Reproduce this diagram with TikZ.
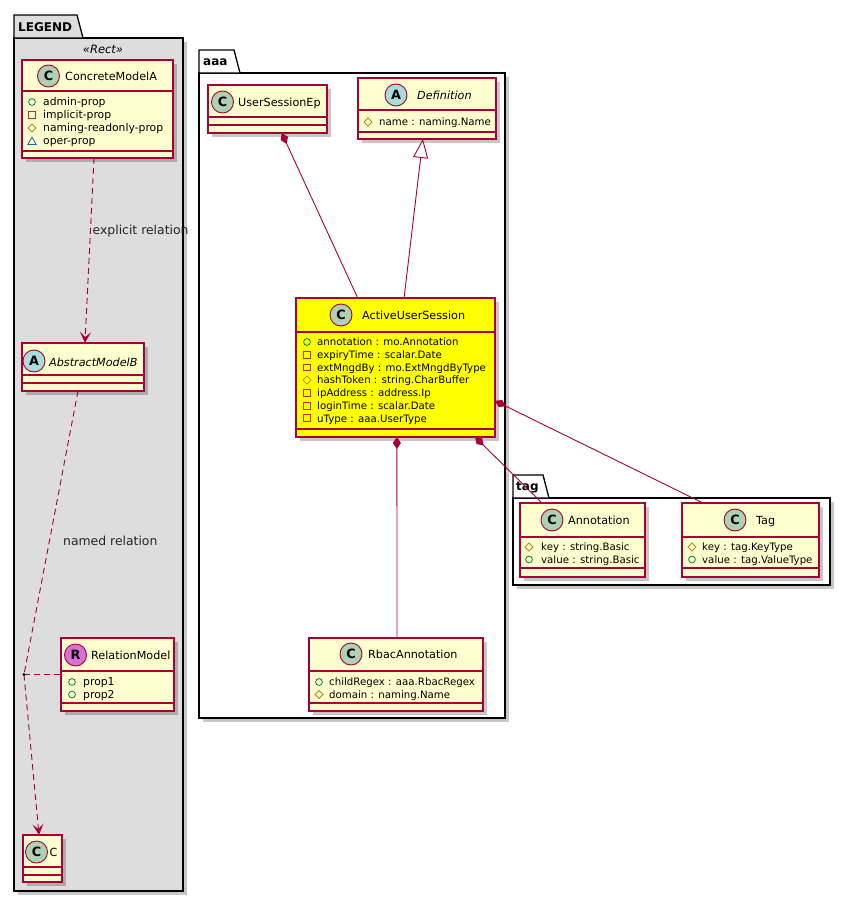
\documentclass[tikz,border=0pt]{standalone}
\usepackage{fontspec}
\setmainfont{DejaVu Sans}
\usetikzlibrary{arrows.meta,shadows,calc}
\definecolor{umlborder}{HTML}{A80036}
\definecolor{umlfill}{HTML}{FEFECE}
\definecolor{legendbg}{HTML}{DDDDDD}
\definecolor{spotC}{HTML}{ADD1B2}
\definecolor{spotA}{HTML}{A9DCDF}
\definecolor{spotR}{HTML}{DA70D6}
\definecolor{pubc}{HTML}{038048}
\definecolor{privc}{HTML}{C82930}
\definecolor{protc}{HTML}{B38D22}
\definecolor{pkgc}{HTML}{1963A0}
\definecolor{hiyellow}{HTML}{FFFF00}

\newcommand\pubI[2]{\draw[pubc, line width=0.8pt] (#1,#2) circle (3.4);}
\newcommand\privI[2]{\draw[privc, line width=0.8pt] (#1-3.4,#2-3.4) rectangle (#1+3.4,#2+3.4);}
\newcommand\protI[2]{\draw[protc, line width=0.8pt] (#1-4,#2) -- (#1,#2-4) -- (#1+4,#2) -- (#1,#2+4) -- cycle;}
\newcommand\pkgI[2]{\draw[pkgc, line width=0.8pt] (#1-4.2,#2+3.4) -- (#1,#2-3.8) -- (#1+4.2,#2+3.4) -- cycle;}
% #1 name, #2 x1, #3 y1, #4 x2, #5 y2, #6 header line, #7 compartment line, #8 fill
\newcommand\umlclass[8]{%
  \node[clsbox, fill=#8, minimum width={#4-#2}, minimum height={#5-#3}] (#1) at (#2,#3) {};
  \draw[clsline] (#2,#6) -- (#4,#6);
  \draw[clsline] (#2,#7) -- (#4,#7);}

\tikzset{
  myshadow/.style={drop shadow={shadow xshift=3.5pt, shadow yshift=-3.5pt, fill=black, opacity=0.22}},
  clsbox/.style={draw=umlborder, line width=1.1pt, anchor=north west, inner sep=0pt, outer sep=0pt, myshadow},
  clsline/.style={draw=umlborder, line width=1.1pt},
  pkgbody/.style={draw=black, line width=1.3pt, anchor=north west, inner sep=0pt, outer sep=0pt, myshadow},
  pkgline/.style={draw=black, line width=1.3pt},
  cname/.style={anchor=base west, inner sep=0pt, font=\fontsize{11.2}{13}\selectfont},
  attr/.style={anchor=base west, inner sep=0pt, font=\fontsize{10.2}{12}\selectfont},
  lattr/.style={attr, font=\fontsize{10.8}{12}\selectfont},
  spot/.style={circle, draw=umlborder, line width=0.9pt, minimum size=22pt, inner sep=0pt, font=\bfseries\fontsize{12.8}{12.8}\selectfont},
  elabel/.style={anchor=base west, inner sep=0pt, font=\fontsize{12.4}{14}\selectfont, text=black!85},
  pkglabel/.style={anchor=base west, inner sep=0pt, font=\bfseries\fontsize{12}{14}\selectfont},
  edge/.style={draw=umlborder, line width=0.9pt},
  depend/.style={edge, dash pattern=on 6pt off 4pt},
  compose/.style={edge, {Diamond[length=12pt,width=8pt,fill=umlborder]}-},
  inherit/.style={edge, -{Triangle[open,length=19pt,width=15pt,fill=white]}},
  openhead/.style={-{Stealth[length=11pt,width=11pt,inset=5pt]}},
}

\begin{document}
\begin{tikzpicture}[x=1pt,y=-1pt]
\useasboundingbox (0,0) rectangle (848,902);
\fill[white] (0,0) rectangle (848,902);

% ---------------- packages
\node[pkgbody, fill=legendbg, minimum width=169pt, minimum height=853pt] (legend) at (14,38) {};
\draw[pkgline, fill=legendbg] (14,38) -- (14,15) -- (77,15) -- (83,38) -- cycle;
\node[pkglabel] (legendlbl) at (18,31.4) {LEGEND};
\node[anchor=base, inner sep=0pt, font=\itshape\fontsize{11.5}{13}\selectfont] (rectst) at (103,53) {«Rect»};

\node[pkgbody, fill=white, minimum width=306pt, minimum height=645pt] (aaa) at (199,73) {};
\draw[pkgline, fill=white] (199,73) -- (199,50) -- (234,50) -- (240,73) -- cycle;
\node[pkglabel] (aaalbl) at (203,65.5) {aaa};

\node[pkgbody, fill=white, minimum width=317pt, minimum height=87pt] (tagp) at (513,498) {};
\draw[pkgline, fill=white] (513,498) -- (513,475) -- (543,475) -- (549,498) -- cycle;
\node[pkglabel] (taglbl) at (516,490.5) {tag};

% ---------------- legend classes
\umlclass{cma}{22}{60}{173}{158}{91}{151}{umlfill}
\node[spot, fill=spotC] (cmas) at (48.5,76) {C};
\node[cname] (cman) at (65,80) {ConcreteModelA};
\pubI{32}{102}  \node[lattr] (cma1) at (43,105.8) {admin-prop};
\privI{32}{115} \node[lattr] (cma2) at (43,118.8) {implicit-prop};
\protI{32}{128} \node[lattr] (cma3) at (43,131.8) {naming-readonly-prop};
\pkgI{32}{141}  \node[lattr] (cma4) at (43,144.8) {oper-prop};

\umlclass{amb}{22}{343}{144}{391}{375}{383}{umlfill}
\node[spot, fill=spotA] (ambs) at (34,361) {A};
\node[cname, font=\itshape\fontsize{11.2}{13}\selectfont] (ambn) at (49,366) {AbstractModelB};

\umlclass{rm}{61}{638}{174}{711}{671}{703}{umlfill}
\node[spot, fill=spotR] (rms) at (75.5,655) {R};
\node[cname] (rmn) at (91,659) {RelationModel};
\pubI{72}{682}   \node[lattr] (rm1) at (83,685.8) {prop1};
\pubI{72}{694.5} \node[lattr] (rm2) at (83,698.3) {prop2};

\umlclass{cnode}{23}{835}{62}{882}{867}{875}{umlfill}
\node[spot, fill=spotC] (cnodes) at (36.5,852) {C};
\node[cname] (cnoden) at (49.5,856) {C};

% ---------------- aaa classes
\umlclass{use}{208}{85}{327}{133}{117}{125}{umlfill}
\node[spot, fill=spotC] (uses) at (222.5,102) {C};
\node[cname] (usen) at (238,106) {UserSessionEp};

\umlclass{def}{358}{78}{496}{139}{110}{132}{umlfill}
\node[spot, fill=spotA] (defs) at (396,95) {A};
\node[cname, font=\itshape\fontsize{11.2}{13}\selectfont] (defn) at (417,99) {Definition};
\protI{368}{122} \node[attr] (def1) at (379,125.8) {name : naming.Name};

\umlclass{aus}{296}{298}{495}{437}{332}{429}{hiyellow}
\node[spot, fill=spotC] (auss) at (341,315) {C};
\node[cname] (ausn) at (362,319) {ActiveUserSession};
\pubI{307}{342}    \node[attr] (aus1) at (317,345.8) {annotation : mo.Annotation};
\privI{307}{354.7} \node[attr] (aus2) at (317,358.5) {expiryTime : scalar.Date};
\privI{307}{367.4} \node[attr] (aus3) at (317,371.2) {extMngdBy : mo.ExtMngdByType};
\protI{307}{380.1} \node[attr] (aus4) at (317,383.9) {hashToken : string.CharBuffer};
\privI{307}{392.8} \node[attr] (aus5) at (317,396.6) {ipAddress : address.Ip};
\privI{307}{405.5} \node[attr] (aus6) at (317,409.3) {loginTime : scalar.Date};
\privI{307}{418.2} \node[attr] (aus7) at (317,422.0) {uType : aaa.UserType};

\umlclass{rbac}{309}{638}{483}{711}{671}{703}{umlfill}
\node[spot, fill=spotC] (rbacs) at (351,654) {C};
\node[cname] (rbacn) at (368,658) {RbacAnnotation};
\pubI{319}{682}    \node[attr] (rbac1) at (329,685.8) {childRegex : aaa.RbacRegex};
\protI{319}{694.5} \node[attr] (rbac2) at (329,698.3) {domain : naming.Name};

% ---------------- tag classes
\umlclass{ann}{520}{503}{645}{577}{537}{568}{umlfill}
\node[spot, fill=spotC] (anns) at (552,520) {C};
\node[cname] (annn) at (568,524) {Annotation};
\protI{529}{547}   \node[attr] (ann1) at (541,550.8) {key : string.Basic};
\pubI{529}{559.5}  \node[attr] (ann2) at (541,563.3) {value : string.Basic};

\umlclass{tagc}{682}{503}{819}{577}{537}{568}{umlfill}
\node[spot, fill=spotC] (tagcs) at (735,520) {C};
\node[cname] (tagcn) at (756,524) {Tag};
\protI{692}{547}   \node[attr] (tag1) at (702,550.8) {key : tag.KeyType};
\pubI{692}{559.5}  \node[attr] (tag2) at (702,563.3) {value : tag.ValueType};

% ---------------- connectors
\draw[depend, openhead] ($(cma.south west)!0.477!(cma.south east)$) -- ($(amb.north west)!0.516!(amb.north east)$);
\node[elabel] (lbl1) at (92.5,234) {explicit relation};

\coordinate (relpt) at (24,674.5);
\draw[depend] ($(amb.south west)!0.459!(amb.south east)$) -- (relpt);
\draw[depend, openhead] (relpt) -- ($(cnode.north west)!0.41!(cnode.north east)$);
\draw[depend] (relpt) -- (rm.west);
\fill[black] (relpt) circle (1.7);
\node[elabel] (lbl2) at (63,545) {named relation};

\draw[compose] ($(use.south west)!0.62!(use.south east)$) -- ($(aus.north west)!0.31!(aus.north east)$);
\draw[inherit] ($(aus.north west)!0.543!(aus.north east)$) -- ($(def.south west)!0.47!(def.south east)$);
\draw[compose] ($(aus.south west)!0.507!(aus.south east)$) -- ($(rbac.north west)!0.506!(rbac.north east)$);
\draw[compose] ($(aus.south west)!0.9!(aus.south east)$) -- ($(ann.north west)!0.176!(ann.north east)$);
\draw[compose] ($(aus.north east)!0.74!(aus.south east)$) -- ($(tagc.north west)!0.153!(tagc.north east)$);
\end{tikzpicture}
\end{document}
